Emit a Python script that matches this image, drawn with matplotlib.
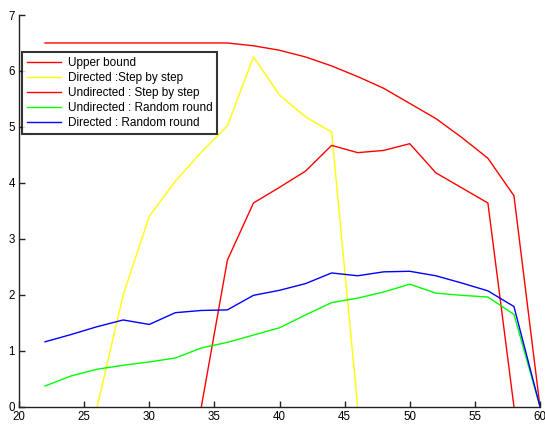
import numpy as np
import matplotlib.pyplot as plt

plt.rcParams['font.family'] = ['Liberation Sans', 'DejaVu Sans']

# x values (even steps)
x_upper = [22, 24, 26, 28, 30, 32, 34, 36, 38, 40, 42, 44, 46, 48, 50, 52, 54, 56, 58, 60]
upper_bound = [6.5, 6.5, 6.5, 6.5, 6.5, 6.5, 6.5, 6.5, 6.45, 6.37, 6.25, 6.09, 5.9, 5.69,
               5.42, 5.15, 4.81, 4.44, 3.77, 0.0]

x_dir_step = [26, 28, 30, 32, 34, 36, 38, 40, 42, 44, 46]
dir_step = [0.0, 2.0, 3.4, 4.03, 4.55, 5.02, 6.25, 5.57, 5.18, 4.91, 0.0]

x_undir_step = [34, 36, 38, 40, 42, 44, 46, 48, 50, 52, 54, 56, 58]
undir_step = [0.0, 2.62, 3.64, 3.92, 4.21, 4.67, 4.54, 4.58, 4.70, 4.18, 3.91, 3.64, 0.0]

x_rand = [22, 24, 26, 28, 30, 32, 34, 36, 38, 40, 42, 44, 46, 48, 50, 52, 54, 56, 58, 60]
undir_rand = [0.37, 0.55, 0.67, 0.74, 0.80, 0.87, 1.05, 1.15, 1.28, 1.41, 1.64, 1.86, 1.94,
              2.05, 2.19, 2.03, 1.99, 1.96, 1.65, 0.0]
dir_rand = [1.16, 1.29, 1.43, 1.55, 1.47, 1.68, 1.72, 1.73, 1.99, 2.08, 2.20, 2.39, 2.34,
            2.41, 2.42, 2.34, 2.21, 2.07, 1.79, 0.0]

fig = plt.figure(figsize=(5.45, 4.24), dpi=100)
ax = fig.add_axes([19 / 545, 17.3 / 424, 521 / 545, 391.7 / 424])

lw = 1.0
ax.plot(x_upper, upper_bound, color='#ff0000', lw=lw, label='Upper bound')
ax.plot(x_dir_step, dir_step, color='#ffff00', lw=lw, label='Directed :Step by step')
ax.plot(x_undir_step, undir_step, color='#ff0000', lw=lw, label='Undirected : Step by step')
ax.plot(x_rand, undir_rand, color='#00ff00', lw=lw, label='Undirected : Random round')
ax.plot(x_rand, dir_rand, color='#0000ff', lw=lw, label='Directed : Random round')

ax.set_xlim(20, 60)
ax.set_ylim(0, 7)
ax.set_xticks(range(20, 61, 5))
ax.set_yticks(range(0, 8))

ax.spines['top'].set_visible(False)
ax.spines['right'].set_visible(False)
for s in ['left', 'bottom']:
    ax.spines[s].set_color('#222222')
    ax.spines[s].set_linewidth(1.0)
ax.tick_params(direction='in', length=4, width=1.0, labelsize=8.3, colors='#222222',
               labelcolor='black', pad=3)

leg = ax.legend(loc='upper left', bbox_to_anchor=(3 / 521, (391.7 - 37) / 391.7),
                fontsize=8.5, frameon=True, fancybox=False, borderpad=0.42,
                labelspacing=0.25, handlelength=2.9, handletextpad=0.55, borderaxespad=0)
leg.get_frame().set_edgecolor('black')
leg.get_frame().set_linewidth(1.5)

fig.savefig('out.png', dpi=100)
